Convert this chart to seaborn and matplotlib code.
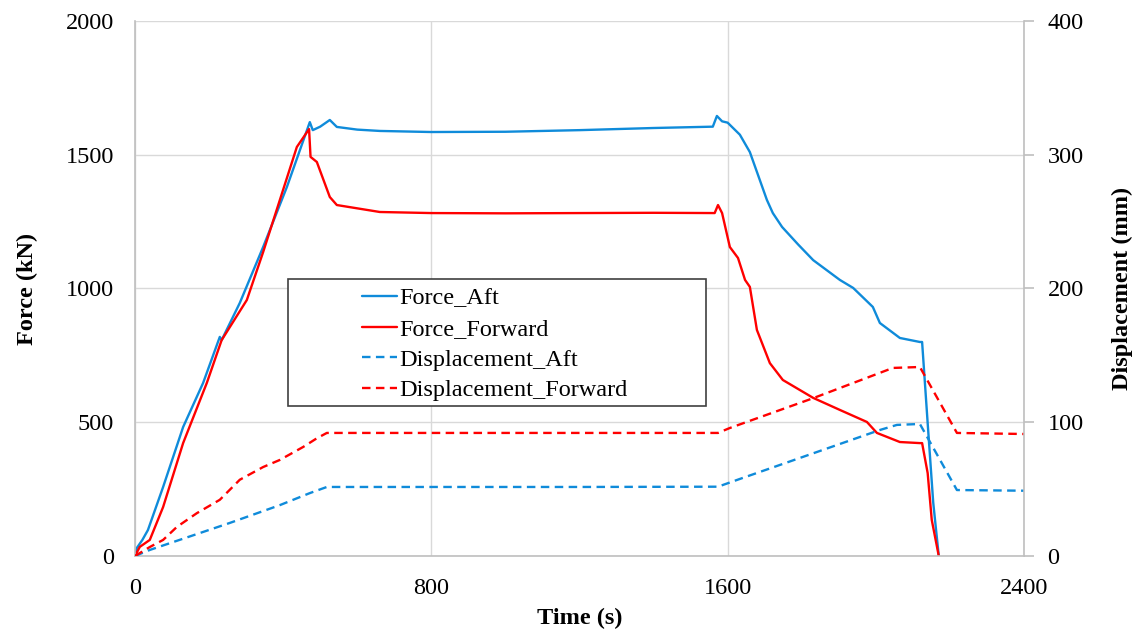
import numpy as np
import pandas as pd
import matplotlib
matplotlib.use("Agg")
import matplotlib.pyplot as plt
import seaborn as sns
from matplotlib.patches import Rectangle

# ---------------- data ----------------
t_force_aft = [0, 5, 20, 35, 76, 130, 184, 229, 234, 283, 346, 410, 472, 480, 500, 526, 545,
               600, 661, 800, 1000, 1200, 1400, 1560, 1571, 1585, 1600, 1633, 1660, 1687,
               1706, 1722, 1747, 1790, 1831, 1903, 1939, 1992, 2011, 2065, 2119, 2125,
               2140, 2155, 2170]
force_aft = [0, 30, 60, 97, 258, 482, 647, 819, 807, 946, 1155, 1379, 1622, 1592, 1605, 1630, 1604,
             1594, 1589, 1585, 1586, 1592, 1600, 1605, 1645, 1625, 1620, 1575, 1510, 1405,
             1331, 1282, 1230, 1165, 1106, 1032, 1002, 931, 871, 815, 800, 800,
             497, 200, 0]

t_force_fwd = [0, 13, 40, 76, 130, 194, 234, 302, 346, 437, 470, 474, 491, 526, 545, 661,
               800, 1000, 1200, 1400, 1565, 1574, 1585, 1606, 1628, 1647, 1660, 1679,
               1714, 1749, 1831, 1903, 1976, 2003, 2065, 2119, 2125, 2140, 2151, 2170]
force_fwd = [0, 34, 60, 183, 422, 647, 807, 957, 1136, 1529, 1596, 1492, 1473, 1342, 1312, 1286,
             1282, 1281, 1282, 1283, 1282, 1312, 1282, 1155, 1114, 1032, 1006, 845,
             721, 658, 591, 546, 501, 460, 426, 422, 422, 310, 135, 0]

t_disp_aft = [0, 40, 256, 391, 472, 518, 800, 1200, 1574, 1633, 2011, 2057, 2119, 2219, 2400]
disp_aft = [0, 4.5, 24.7, 38, 47, 51.6, 51.6, 51.6, 51.8, 57.6, 94.2, 98, 98.7, 49.3, 48.8]

t_disp_fwd = [0, 40, 76, 113, 167, 229, 283, 346, 391, 454, 491, 518, 800, 1200, 1574,
              1606, 1831, 2046, 2119, 2219, 2400]
disp_fwd = [0, 6.7, 12, 21.7, 32, 42, 57, 66.5, 71.8, 81.5, 88, 92, 92, 92, 92,
            95.7, 118, 140.6, 141.3, 92, 91.2]

x_ticks = [0, 800, 1600, 2400]
left_ticks = [0, 500, 1000, 1500, 2000]
right_ticks = [0, 100, 200, 300, 400]

BLUE = "#0F8BDA"
RED = "#FF0000"

# ---------------- figure ----------------
sns.set_theme(style="white")
plt.rcParams["font.family"] = ["Liberation Serif", "DejaVu Serif"]
plt.rcParams["text.color"] = "black"
plt.rcParams["axes.labelcolor"] = "black"

fig = plt.figure(figsize=(11.38, 6.31), dpi=100)
ax = fig.add_axes([0.1186, 0.1189, 0.7812, 0.8478])
ax2 = ax.twinx()

lw = 1.7
dash = (3.6, 2.3)

sns.lineplot(x=t_force_aft, y=force_aft, ax=ax, color=BLUE, lw=lw, sort=False,
             estimator=None, label="Force_Aft", legend=False)
sns.lineplot(x=t_force_fwd, y=force_fwd, ax=ax, color=RED, lw=lw, sort=False,
             estimator=None, label="Force_Forward", legend=False)
sns.lineplot(x=t_disp_aft, y=disp_aft, ax=ax2, color=BLUE, lw=lw, sort=False,
             estimator=None, label="Displacement_Aft", legend=False)
sns.lineplot(x=t_disp_fwd, y=disp_fwd, ax=ax2, color=RED, lw=lw, sort=False,
             estimator=None, label="Displacement_Forward", legend=False)
for ln in ax2.get_lines():
    ln.set_dashes(dash)

ax.set_xlim(0, 2400)
ax.set_ylim(0, 2000)
ax2.set_ylim(0, 400)
ax.set_xticks(x_ticks)
ax.set_yticks(left_ticks)
ax2.set_yticks(right_ticks)

ax.grid(True, color="#D9D9D9", lw=1.0)
ax.set_axisbelow(True)
ax2.grid(False)

for a in (ax, ax2):
    for s in a.spines.values():
        s.set_visible(False)
ax.spines["left"].set_visible(True)
ax.spines["bottom"].set_visible(True)
ax2.spines["right"].set_visible(True)
for s in (ax.spines["left"], ax.spines["bottom"], ax2.spines["right"]):
    s.set_color("#BFBFBF")
    s.set_linewidth(1.2)

fs = 17.5
ax.tick_params(axis="y", length=0, pad=15, labelsize=fs, colors="black")
ax.tick_params(axis="x", length=0, pad=16, labelsize=fs, colors="black")
ax2.tick_params(axis="y", length=7, width=1.2, color="#BFBFBF", direction="out",
                pad=10, labelsize=fs, labelcolor="black")

ax.set_xlabel("Time (s)", fontsize=17.5, fontweight="bold", labelpad=6, color="black")
ax.set_ylabel("Force (kN)", fontsize=17.5, fontweight="bold", labelpad=20, color="black")
ax2.set_ylabel("Displacement (mm)", fontsize=17.5, fontweight="bold", labelpad=20, color="black")

# legend with boxed frame
handles = ax.get_lines() + ax2.get_lines()
labels = [h.get_label() for h in handles]
leg = ax2.legend(handles, labels, loc="upper left", bbox_to_anchor=(0.245, 0.52),
                 frameon=False, fontsize=17.5, handlelength=1.4, handletextpad=0.1,
                 labelspacing=0.35, borderaxespad=0, labelcolor="black")
ax2.add_patch(Rectangle((0.172, 0.280), 0.470, 0.238, transform=ax2.transAxes,
                        fill=True, facecolor="white", edgecolor="#404040", lw=1.2, zorder=4))
leg.set_zorder(5)

fig.savefig("out.png", dpi=100)
